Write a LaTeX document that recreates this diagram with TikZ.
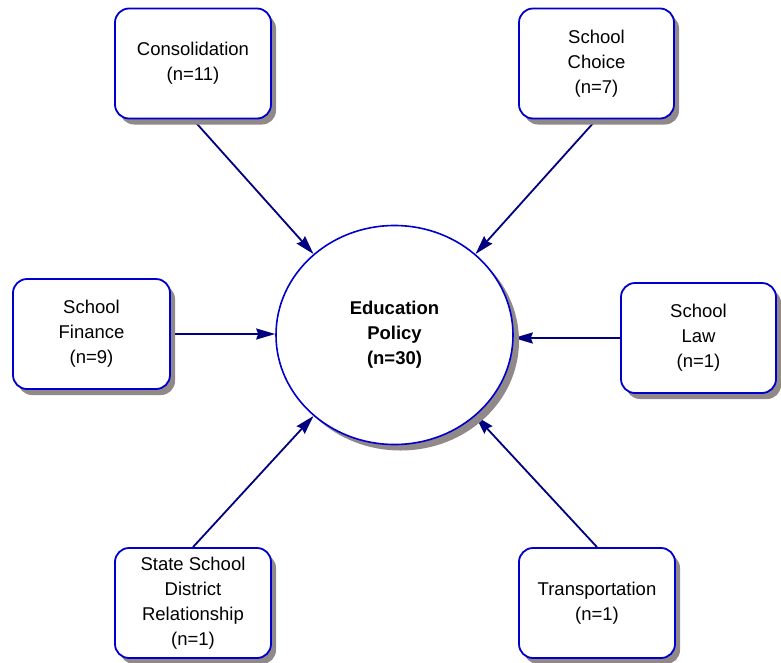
\documentclass[tikz,border=0pt]{standalone}
\usepackage{fontspec}
\setmainfont{Liberation Sans}
\usetikzlibrary{shapes.geometric,shadows,arrows.meta,backgrounds}
\definecolor{boxblue}{RGB}{0,0,204}
\definecolor{arrnavy}{RGB}{0,0,128}
\definecolor{shadowgray}{RGB}{145,136,137}
\tikzset{
  lbl/.style={font=\fontsize{18.5}{25}\selectfont, align=center, text=black},
  topic/.style={lbl, draw=boxblue, line width=1.8pt, fill=white, rounded corners=14pt,
    minimum height=110pt, inner sep=0pt,
    drop shadow={shadow xshift=5pt, shadow yshift=-6pt, fill=shadowgray, opacity=1}},
  hub/.style={lbl, font=\fontsize{18.5}{25}\selectfont\bfseries, ellipse, draw=boxblue, line width=1.6pt, fill=white,
    minimum width=237pt, minimum height=219pt, inner sep=0pt,
    drop shadow={shadow xshift=6pt, shadow yshift=-6pt, fill=shadowgray, opacity=1}},
  arr/.style={draw=arrnavy, line width=1.8pt, -{Stealth[length=19pt,width=11pt,inset=2pt]}}
}
\begin{document}
\begin{tikzpicture}[x=1pt,y=-1pt]
\useasboundingbox (0,0) rectangle (781,662);
\node[hub] (ell) at (394.5,335) {Education\\Policy\\(n=30)};
\node[topic, minimum width=156pt] (cons) at (193,63.5) {Consolidation\\(n=11)};
\node[topic, minimum width=155pt] (choice) at (596.5,63.5) {School\\Choice\\(n=7)};
\node[topic, minimum width=157pt] (fin) at (91.5,334) {School\\Finance\\(n=9)};
\node[topic, minimum width=155pt] (law) at (698.5,338) {School\\Law\\(n=1)};
\node[topic, minimum width=156pt] (state) at (193,603) {State School\\District\\Relationship\\(n=1)};
\node[topic, minimum width=156pt] (trans) at (597,603) {Transportation\\(n=1)};
\begin{scope}[on background layer]
\draw[arr] (cons.south) -- (ell.135);
\draw[arr] (choice.south) -- (ell.45);
\draw[arr] (state.north) -- (ell.225);
\draw[arr] (trans.north) -- (ell.315);
\draw[arr] (fin.east) -- (fin.east -| ell.west);
\draw[arr] (law.west) -- (law.west -| ell.east);
\end{scope}
\end{tikzpicture}
\end{document}
